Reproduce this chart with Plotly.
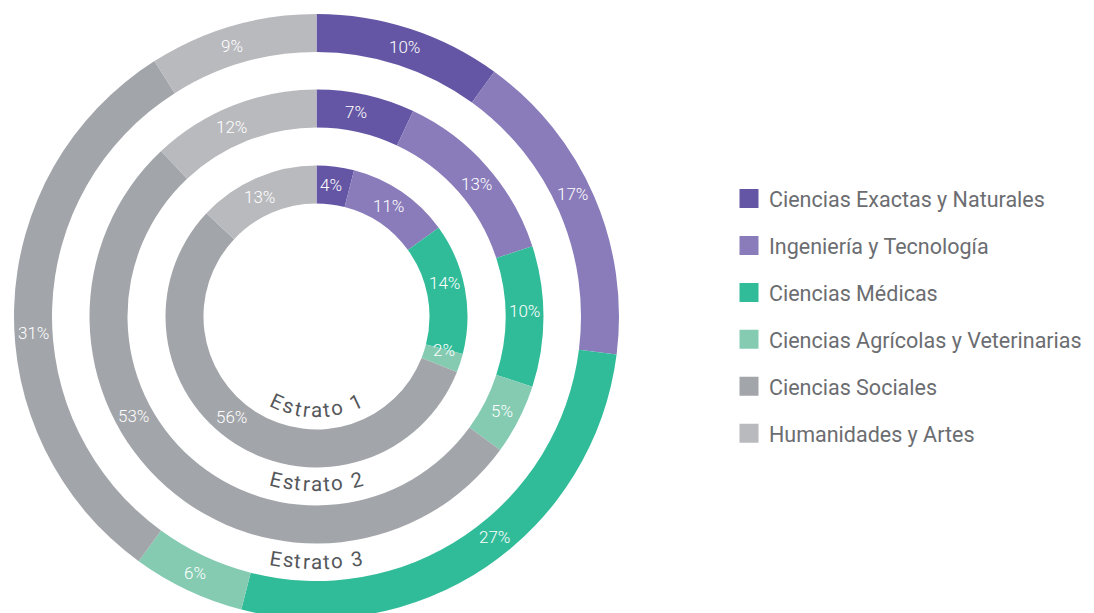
import math
import plotly.graph_objects as go

# ---------------- data ----------------
categories = [
    "Ciencias Exactas y Naturales",
    "Ingeniería y Tecnología",
    "Ciencias Médicas",
    "Ciencias Agrícolas y Veterinarias",
    "Ciencias Sociales",
    "Humanidades y Artes",
]
estrato_1 = [4, 11, 14, 2, 56, 13]
estrato_2 = [7, 13, 10, 5, 53, 12]
estrato_3 = [10, 17, 27, 6, 31, 9]
ring_names = ["Estrato 1", "Estrato 2", "Estrato 3"]

colors = ["#6456A4", "#8A7CBA", "#31BC99", "#84CBB2", "#A2A5A9", "#B9BABE"]

# ---------------- layout constants (pixels; page body has an 8px margin) ----------------
W, H = 1110, 613
OFF = 8
CX, CY = 316.5 - OFF, 316.5 - OFF
ring_outer = [151, 227, 302.5]
ring_inner = [113, 189, 264.5]
name_radius = [94, 168, 245.5]
# angular placement of the percentage labels (degrees clockwise from 12 o'clock),
# as laid out in the original artwork
label_angles = [
    [6.4, 33.1, 75.3, 104.7, 220.2, 334.6],
    [10.9, 50.5, 88.5, 117.1, 241.4, 335.9],
    [18.1, 64.5, 141.0, 205.3, 266.7, 342.6],
]

FONT = "Roboto"
LABEL_FONT = dict(family=FONT, size=17, color="white", weight=300)


def dom(r):
    x0, x1 = (CX - r) / W, (CX + r) / W
    y0, y1 = 1 - (CY + r) / H, 1 - (CY - r) / H
    return dict(x=[max(0, x0), min(1, x1)], y=[max(0, y0), min(1, y1)])


fig = go.Figure()
annotations = []

for vals, ro, ri, angs in zip([estrato_1, estrato_2, estrato_3], ring_outer, ring_inner, label_angles):
    fig.add_trace(go.Pie(
        labels=categories, values=vals, sort=False, direction="clockwise",
        rotation=0, hole=ri / ro, domain=dom(ro),
        marker=dict(colors=colors, line=dict(width=0)),
        textinfo="none", hoverinfo="skip", showlegend=False,
    ))
    rm = (ro + ri) / 2
    for v, ang in zip(vals, angs):
        th = math.radians(ang)
        px, py = CX + rm * math.sin(th), CY - rm * math.cos(th)
        annotations.append(dict(
            x=px / W, y=1 - py / H, xref="paper", yref="paper",
            text=f"{v}%", showarrow=False, xanchor="center", yanchor="middle",
            font=LABEL_FONT,
        ))

# legend entries
for cat, col in zip(categories, colors):
    fig.add_trace(go.Scatter(
        x=[None], y=[None], mode="markers", name=cat, legendgroup=cat,
        marker=dict(symbol="square", size=16, color=col, line=dict(width=3, color=col)),
        hoverinfo="skip", showlegend=True,
    ))

# curved ring names, one annotation per character
char_w = {"E": .565, "s": .515, "t": .327, "r": .338, "a": .543, "o": .57, " ": .30,
          "1": .561, "2": .561, "3": .561}
FS = 20.5
TRACK = 1.3
for name, rl in zip(ring_names, name_radius):
    widths = [char_w.get(c, .55) * FS for c in name]
    total = sum(widths) + TRACK * (len(name) - 1)
    pos = -total / 2
    for c, w in zip(name, widths):
        mid = pos + w / 2
        pos += w + TRACK
        if c == " ":
            continue
        phi = mid / rl
        px = CX + rl * math.sin(phi)
        py = CY + rl * math.cos(phi)
        annotations.append(dict(
            x=px / W, y=1 - py / H, xref="paper", yref="paper",
            text=c, showarrow=False, xanchor="center", yanchor="middle",
            textangle=-math.degrees(phi),
            font=dict(family=FONT, size=FS, color="#55575b"),
        ))

fig.update_layout(
    width=W, height=H,
    margin=dict(l=0, r=0, t=0, b=0),
    paper_bgcolor="white", plot_bgcolor="white",
    xaxis=dict(visible=False), yaxis=dict(visible=False),
    showlegend=True,
    legend=dict(
        x=721 / W, y=1 - 170 / H, xanchor="left", yanchor="top",
        traceorder="grouped", tracegroupgap=16,
        font=dict(family=FONT, size=21.5, color="#6b6d71"),
        bgcolor="rgba(0,0,0,0)",
    ),
    annotations=annotations,
)

fig.write_html("out.html")
